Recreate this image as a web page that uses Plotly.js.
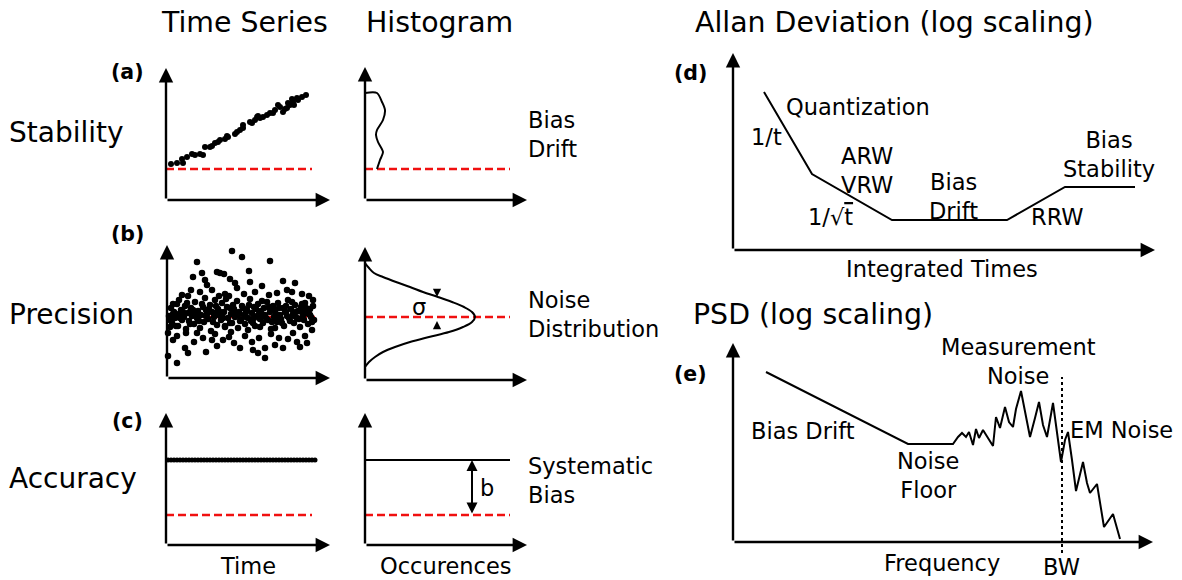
<!DOCTYPE html>
<html>
<head>
<meta charset="utf-8">
<script src="https://cdn.plot.ly/plotly-3.0.1.min.js"></script>
<style>html,body{margin:0;padding:0;background:#fff;}#chart{width:1182px;height:580px;}</style>
</head>
<body>
<div id="chart"></div>
<script>
// ---------------- data ----------------
// (a) Stability: drifting time series
const stabilityTime  = [5,11,16,17,21,26,29,34,37,39,44,46,49,52,54,59,61,62,69,71,74,77,77,84,86,89,91,92,94,97,101,104,107,109,112,114,117,119,121,122,124,126,127,128,131,132,136,140];
const stabilityValue = [36,37,41,37,43,46,45,46,45,53,53,54,57,58,60,61,64,63,66,68,70,72,75,78,77,80,83,84,82,83,85,87,87,90,95,93,88,91,92,97,95,101,98,95,102,100,103,105];
const stabilityTrueT = [0,146];
const stabilityTrueV = [31,31];
const stabilityHistOcc   = [0,12,17,20,18,12,11,13,18,15,12];
const stabilityHistLevel = [107,107,98,90,80,70,65,58,48,40,31];
const stabilityHistTrueO = [0,145];

// (b) Precision: noisy samples around the true value
const precisionSamples = [
[2,62],[4,70],[5,55],[7,66],[8,60],[10,74],[11,52],[12,64],[14,68],[15,58],[17,61],[18,72],[19,49],[21,65],[22,57],[24,70],[25,62],[27,54],[28,76],[30,60],[31,67],[33,50],[34,63],[36,71],[37,56],[38,80],[40,64],[41,59],[43,73],[44,47],[45,66],[47,61],[48,78],[50,53],[51,69],[52,63],[54,58],[55,75],[57,66],[58,52],[60,71],[61,60],[62,82],[64,64],[65,55],[67,69],[68,61],[70,77],[71,50],[72,66],[74,58],[75,72],[77,63],[78,54],[80,68],[81,60],[83,79],[84,57],[85,65],[87,71],[88,52],[90,62],[91,74],[93,59],[94,67],[96,55],[97,70],[98,63],[100,76],[101,58],[103,66],[104,49],[106,72],[107,61],[108,68],[110,56],[111,75],[113,63],[114,59],[116,70],[117,52],[118,66],[120,62],[121,78],[123,57],[124,69],[126,64],[127,55],[128,73],[130,60],[131,67],[133,51],[134,71],[136,63],[137,58],[138,75],[140,65],[141,54],[143,69],[144,61],[146,72],[147,58],
[3,58],[6,74],[9,52],[13,60],[16,66],[20,75],[23,54],[26,68],[29,64],[32,57],[35,74],[39,62],[42,69],[46,56],[49,72],[53,66],[56,60],[59,79],[63,55],[66,73],[69,65],[73,57],[76,70],[79,61],[82,73],[86,55],[89,69],[92,64],[95,77],[99,60],[102,71],[105,56],[109,64],[112,70],[115,55],[119,72],[122,60],[125,76],[129,66],[132,59],[135,74],[139,70],[142,64],[145,56],
[65,127],[75,121],[30,116],[103,117],[35,105],[26,101],[50,106],[53,105],[82,107],[57,104],[83,96],[63,99],[68,95],[116,97],[128,95],[38,98],[40,93],[33,86],[21,82],[12,78],[146,78],[16,63],[3,51],[1,22],[10,15],[6,38],[21,25],[39,26],[45,38],[62,41],[67,35],[73,30],[91,25],[98,20],[98,30],[116,30],[133,31],[121,39],[108,50],[93,51],[81,48],[58,51],[30,45],[19,45],[1,45],
[45,88],[58,84],[70,90],[88,86],[95,92],[110,85],[120,88],[135,84],[142,82],[24,88],[15,83],[52,82],[77,84],[102,83],[125,86],[36,40],[48,44],[56,38],[78,42],[85,36],[104,44],[112,40],[126,45],[138,42],[145,48],[10,42],[27,36],[64,46],[92,40],[130,36],[18,30],[50,32],[86,28],[108,33],[140,35],
[6,64],[14,62],[23,66],[31,58],[39,68],[47,65],[55,62],[63,70],[71,63],[79,66],[87,60],[95,63],[103,70],[111,61],[119,66],[127,62],[135,66],[143,63]
];
const precisionTrueT = [0,148];
const precisionTrueV = [61,61];
const precisionHistLevel = [117,112,107,103,98,93,88,83,78,73,68,63,58,53,48,43,38,33,28,23,18,13];
const precisionHistOcc   = [0,4,9,18,31,45,58,73,87,99,107,110,107,98,84,64,45,30,18,10,4,0];
const precisionHistTrueO = [0,145];
const precisionHistTrueV = [63,63];

// (c) Accuracy: constant offset from the true value
const accuracyTime  = [2,5,8,11,14,17,20,23,26,29,32,35,38,41,44,47,50,53,56,59,62,65,68,71,74,77,80,83,86,89,92,95,98,101,104,107,110,113,116,119,122,125,128,131,134,137,140,143,146,149];
const accuracyValue = [85,85,85,85,85,85,85,85,85,85,85,85,85,85,85,85,85,85,85,85,85,85,85,85,85,85,85,85,85,85,85,85,85,85,85,85,85,85,85,85,85,85,85,85,85,85,85,85,85,85];
const accuracyTrueT = [0,146];
const accuracyTrueV = [30,30];
const accuracyHistOcc = [0,145];
const accuracyHistMeasured = [85,85];
const accuracyHistTrue = [30,30];
const accuracyBiasAt = 107;

// (d) Allan deviation
const allanTau = [31,79,159,274,332,402];
const allanDev = [158,76,30,30,63,63];

// (e) PSD
const psdFreq = [33,175,220,225,229,233,236,240,243,246,250,254,260,263,267,272,276,280,283,288,293,297,302,306,310,314,320,324,328,332,335,339,343,350,354,357,364,371,380,387];
const psdPow  = [170,98,98,105,109,105,110,97,113,104,112,106,96,125,114,135,120,115,133,151,127,105,124,140,117,105,139,112,80,102,110,82,51,80,59,49,58,15,28,3];
const bwFreq = [329,329];
const bwPow  = [-11,165];

// ---------------- layout helpers ----------------
const FW = 1182, FH = 580;
const FONT = 'DejaVu Sans, Liberation Sans, sans-serif';
const RED = '#f01010';
const px = v => v / FW;
const py = v => 1 - v / FH;

// panel boxes in pixels: [left, right, top, bottom], ranges
const panels = [
  {n:'',  box:[166,330,68,200],  xr:[0,164], yr:[0,132]},
  {n:'2', box:[365,527,67,200],  xr:[0,162], yr:[0,133]},
  {n:'3', box:[167,330,245,378], xr:[0,163], yr:[0,133]},
  {n:'4', box:[365,527,247,380], xr:[0,162], yr:[0,133]},
  {n:'5', box:[166,330,413,545], xr:[0,164], yr:[0,132]},
  {n:'6', box:[365,527,413,545], xr:[0,162], yr:[0,132]},
  {n:'7', box:[733,1155,53,250], xr:[0,422], yr:[0,197]},
  {n:'8', box:[733,1153,343,553], xr:[0,420], yr:[-11,199]}
];

const layout = {
  width: FW, height: FH,
  margin: {l:0, r:0, t:0, b:0},
  paper_bgcolor: '#ffffff', plot_bgcolor: 'rgba(0,0,0,0)',
  showlegend: false,
  font: {family: FONT, color: '#000', size: 22.5},
  annotations: []
};
const axBase = {visible:false, showgrid:false, zeroline:false, fixedrange:true};
panels.forEach(p => {
  const [l, r, t, b] = p.box;
  layout['xaxis' + p.n] = Object.assign({}, axBase, {domain:[px(l), px(r)], range:p.xr, anchor:'y' + p.n});
  layout['yaxis' + p.n] = Object.assign({}, axBase, {domain:[py(b), py(t)], range:p.yr, anchor:'x' + p.n});
  // axis arrows
  const common = {xref:'x'+p.n, yref:'y'+p.n, axref:'x'+p.n, ayref:'y'+p.n, text:'', showarrow:true,
                  arrowhead:2, arrowsize:1.2, arrowwidth:2.4, arrowcolor:'#000', ax:0, ay:0};
  layout.annotations.push(Object.assign({}, common, {x:p.xr[1], y:0}));
  layout.annotations.push(Object.assign({}, common, {x:0, y:p.yr[1]}));
});

function label(text, x, y, opt) {
  layout.annotations.push(Object.assign({
    text: text, xref:'paper', yref:'paper', x: px(x), y: py(y),
    xanchor:'center', yanchor:'middle', showarrow:false,
    font:{family:FONT, size:22.5, color:'#000'}
  }, opt || {}));
}
function arrow(n, x, y, ax, ay, opt) {
  layout.annotations.push(Object.assign({
    xref:'x'+n, yref:'y'+n, axref:'x'+n, ayref:'y'+n, x:x, y:y, ax:ax, ay:ay, text:'',
    showarrow:true, arrowhead:2, arrowsize:1, arrowwidth:2, arrowcolor:'#000'
  }, opt || {}));
}

// titles
label('Time Series', 244.5, 22.5, {font:{family:FONT, size:28.4}});
label('Histogram', 439.5, 22.5, {font:{family:FONT, size:28.4}});
label('Allan Deviation (log scaling)', 693, 22.5, {xanchor:'left', font:{family:FONT, size:28.4}});
label('PSD (log scaling)', 691, 314, {xanchor:'left', font:{family:FONT, size:28.4}});
// row labels
label('Stability', 7, 133, {xanchor:'left', font:{family:FONT, size:28}});
label('Precision', 7, 314, {xanchor:'left', font:{family:FONT, size:28}});
label('Accuracy', 7, 478, {xanchor:'left', font:{family:FONT, size:28}});
// panel letters
const bold = {family:FONT, size:20.5, weight:'bold'};
label('<b>(a)</b>', 127, 72, {font:bold});
label('<b>(b)</b>', 127, 234, {font:bold});
label('<b>(c)</b>', 127, 421, {font:bold});
label('<b>(d)</b>', 690, 73, {font:bold});
label('<b>(e)</b>', 690, 374, {font:bold});
// histogram side labels
label('Bias<br>Drift', 526, 134, {xanchor:'left', align:'left'});
label('Noise<br>Distribution', 526, 314, {xanchor:'left', align:'left'});
label('Systematic<br>Bias', 526, 480, {xanchor:'left', align:'left'});
label('Time', 248, 566);
label('Occurences', 446, 566);
// Allan labels
label('Quantization', 857.5, 107);
label('1/t', 766, 137);
label('ARW<br>VRW', 867, 170);
label('1/√<span style="text-decoration:overline">t</span>', 830, 217);
label('Bias<br>Drift', 953, 196);
label('RRW', 1057.5, 217);
label('Bias<br>Stability', 1109, 154);
label('Integrated Times', 941.5, 268.5);
// PSD labels
label('Bias Drift', 802.5, 431);
label('Noise<br>Floor', 928, 475.5);
label('Measurement<br>Noise', 1018, 361.5);
label('EM Noise', 1068, 430, {xanchor:'left'});
label('Frequency', 941.5, 563);
label('BW', 1061.5, 567);
// sigma & bias arrows
arrow('4', 72, 83, 72, 91, {arrowwidth:1.5, arrowsize:1.1});
arrow('4', 72, 59, 72, 51, {arrowwidth:1.5, arrowsize:1.1});
layout.annotations.push({xref:'x4', yref:'y4', x:54, y:73, text:'σ', showarrow:false,
  xanchor:'center', yanchor:'middle', font:{family:FONT, size:22.5}});
arrow('6', accuracyBiasAt, accuracyHistMeasured[0], accuracyBiasAt, accuracyHistTrue[0],
  {arrowside:'end+start', arrowwidth:2, arrowsize:1.1});
layout.annotations.push({xref:'x6', yref:'y6', x:122, y:57, text:'b', showarrow:false,
  xanchor:'center', yanchor:'middle', font:{family:FONT, size:22.5}});

// ---------------- traces ----------------
const redDash = {color:RED, width:2.4, dash:'8px,4px'};
const blk = {color:'#000', width:2};
const traces = [
  // (a)
  {x:stabilityTrueT, y:stabilityTrueV, mode:'lines', line:redDash, xaxis:'x', yaxis:'y'},
  {x:stabilityTime, y:stabilityValue, mode:'markers', marker:{color:'#000', size:6}, cliponaxis:false, xaxis:'x', yaxis:'y'},
  {x:stabilityHistTrueO, y:stabilityTrueV, mode:'lines', line:redDash, xaxis:'x2', yaxis:'y2'},
  {x:stabilityHistOcc, y:stabilityHistLevel, mode:'lines', line:{color:'#000', width:2, shape:'spline', smoothing:0.8}, xaxis:'x2', yaxis:'y2'},
  // (b)
  {x:precisionTrueT, y:precisionTrueV, mode:'lines', line:redDash, xaxis:'x3', yaxis:'y3'},
  {x:precisionSamples.map(d => d[0]), y:precisionSamples.map(d => d[1]), mode:'markers',
   marker:{color:'#000', size:6.5}, cliponaxis:false, xaxis:'x3', yaxis:'y3'},
  {x:precisionHistTrueO, y:precisionHistTrueV, mode:'lines', line:redDash, xaxis:'x4', yaxis:'y4'},
  {x:precisionHistOcc, y:precisionHistLevel, mode:'lines', line:{color:'#000', width:2, shape:'spline', smoothing:1}, xaxis:'x4', yaxis:'y4'},
  // (c)
  {x:accuracyTrueT, y:accuracyTrueV, mode:'lines', line:redDash, xaxis:'x5', yaxis:'y5'},
  {x:accuracyTime, y:accuracyValue, mode:'markers', marker:{color:'#000', size:5}, cliponaxis:false, xaxis:'x5', yaxis:'y5'},
  {x:accuracyHistOcc, y:accuracyHistTrue, mode:'lines', line:redDash, xaxis:'x6', yaxis:'y6'},
  {x:accuracyHistOcc, y:accuracyHistMeasured, mode:'lines', line:blk, xaxis:'x6', yaxis:'y6'},
  // (d)
  {x:allanTau, y:allanDev, mode:'lines', line:blk, xaxis:'x7', yaxis:'y7'},
  // (e)
  {x:psdFreq, y:psdPow, mode:'lines', line:blk, xaxis:'x8', yaxis:'y8'},
  {x:bwFreq, y:bwPow, mode:'lines', line:{color:'#000', width:2, dash:'3px,3px'}, xaxis:'x8', yaxis:'y8'}
];
traces.forEach(t => { t.type = 'scatter'; t.hoverinfo = 'skip'; });

Plotly.newPlot('chart', traces, layout, {staticPlot:true, displayModeBar:false});
</script>
</body>
</html>
